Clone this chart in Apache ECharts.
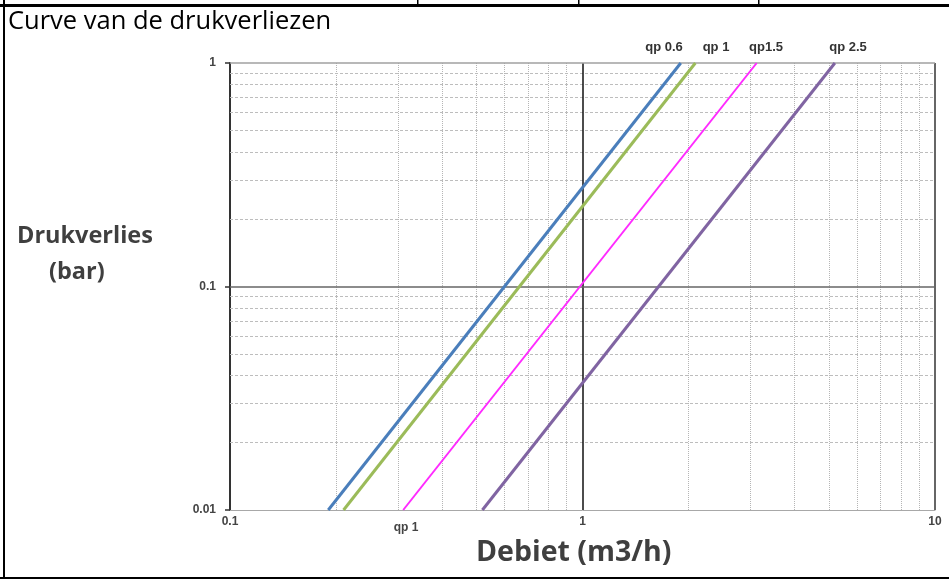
<!DOCTYPE html>
<html>
<head>
<meta charset="utf-8">
<script src="https://cdn.jsdelivr.net/npm/echarts@6/dist/echarts.min.js"></script>
<style>
html,body{margin:0;padding:0;background:#fff;}
#chart{width:949px;height:579px;}
</style>
</head>
<body>
<div id="chart"></div>
<script>
// ---- data ----
const xTicks = [0.1, 1, 10];
const yTicks = [0.01, 0.1, 1];
const xMinor = [0.2,0.3,0.4,0.5,0.6,0.7,0.8,0.9,2,3,4,5,6,7,8,9];
const yMinor = [0.02,0.03,0.04,0.05,0.06,0.07,0.08,0.09,0.2,0.3,0.4,0.5,0.6,0.7,0.8,0.9];
const seriesNames = ['qp 0.6', 'qp 1', 'qp1.5', 'qp 2.5'];
const qp06 = [[0.19, 0.01], [1.90, 1]];
const qp1  = [[0.21, 0.01], [2.09, 1]];
const qp15 = [[0.31, 0.01], [3.12, 1]];
const qp25 = [[0.52, 0.01], [5.20, 1]];

const chart = echarts.init(document.getElementById('chart'), null, {renderer: 'canvas'});

const lineFont = 'Liberation Sans';
function mk(name, data, color, width) {
  return {
    name: name, type: 'line', data: data, symbol: 'none', silent: true,
    lineStyle: {color: color, width: width}, z: 5, animation: false
  };
}

const option = {
  animation: false,
  backgroundColor: '#fff',
  grid: {left: 230, right: 14, top: 63, bottom: 69, containLabel: false},
  xAxis: {
    type: 'log', logBase: 10, min: 0.1, max: 10,
    axisLine: {show: true, lineStyle: {color: '#a8a8a8', width: 1}},
    axisTick: {show: false},
    splitLine: {show: false},
    axisLabel: {
      margin: 6, fontFamily: lineFont, fontWeight: 'bold', fontSize: 12, color: '#444',
      formatter: function (v) { return xTicks.indexOf(+v) >= 0 ? String(v) : ''; }
    }
  },
  yAxis: {
    type: 'log', logBase: 10, min: 0.01, max: 1,
    axisLine: {show: true, lineStyle: {color: '#333', width: 2}},
    axisTick: {show: true, inside: false, length: 5, lineStyle: {color: '#333', width: 1.5}},
    splitLine: {show: false},
    axisLabel: {
      margin: 14, fontFamily: lineFont, fontWeight: 'bold', fontSize: 12, color: '#444',
      formatter: function (v) { return yTicks.indexOf(+v) >= 0 ? String(v) : ''; }
    }
  },
  series: [
    {
      type: 'line', data: [], silent: true, animation: false, z: 1,
      markLine: {
        silent: true, symbol: 'none', animation: false, label: {show: false},
        data: []
          .concat(xMinor.map(v => ({xAxis: v, lineStyle: {color: '#b5b5b5', type: 'dotted', width: 1}})))
          .concat(yMinor.map(v => ({yAxis: v, lineStyle: {color: '#bdbdbd', type: [3, 2], width: 1}})))
          .concat([
            {xAxis: 1, lineStyle: {color: '#111', type: 'solid', width: 1.5}},
            {xAxis: 10, lineStyle: {color: '#666', type: 'solid', width: 2}},
            {yAxis: 0.1, lineStyle: {color: '#666', type: 'solid', width: 1.5}},
            {yAxis: 1, lineStyle: {color: '#a0a0a0', type: 'solid', width: 1.5}}
          ])
      }
    },
    mk(seriesNames[0], qp06, '#4a7ebb', 3),
    mk(seriesNames[1], qp1, '#9bbb59', 3),
    mk(seriesNames[2], qp15, '#ff2aff', 2),
    mk(seriesNames[3], qp25, '#8064a2', 3)
  ],
  graphic: [
    // frame of the table cell
    {type: 'rect', shape: {x: 0, y: 4, width: 949, height: 3}, style: {fill: '#000'}, silent: true},
    {type: 'rect', shape: {x: 3, y: 0, width: 2, height: 579}, style: {fill: '#000'}, silent: true},
    {type: 'rect', shape: {x: 0, y: 577, width: 949, height: 2}, style: {fill: '#000'}, silent: true},
    {type: 'rect', shape: {x: 417, y: 0, width: 1.5, height: 5}, style: {fill: '#000'}, silent: true},
    {type: 'rect', shape: {x: 578, y: 0, width: 1.5, height: 5}, style: {fill: '#000'}, silent: true},
    {type: 'rect', shape: {x: 758, y: 0, width: 1.5, height: 5}, style: {fill: '#000'}, silent: true},
    // texts
    {type: 'text', left: 8, top: 9, style: {text: 'Curve van de drukverliezen', font: '25.5px "Open Sans"', fill: '#000'}},
    {type: 'text', left: 17, top: 224, style: {text: 'Drukverlies', font: 'bold 23.5px "Open Sans"', fill: '#3f3f3f'}},
    {type: 'text', left: 49, top: 260, style: {text: '(bar)', font: 'bold 23.5px "Open Sans"', fill: '#3f3f3f'}},
    {type: 'text', left: 476, top: 538, style: {text: 'Debiet (m3/h)', font: 'bold 28.5px "Open Sans"', fill: '#3f3f3f'}},
    {type: 'text', x: 664, y: 47, style: {text: seriesNames[0], align: 'center', verticalAlign: 'middle', font: 'bold 13px "Liberation Sans"', fill: '#333'}},
    {type: 'text', x: 716, y: 47, style: {text: seriesNames[1], align: 'center', verticalAlign: 'middle', font: 'bold 13px "Liberation Sans"', fill: '#333'}},
    {type: 'text', x: 766, y: 47, style: {text: seriesNames[2], align: 'center', verticalAlign: 'middle', font: 'bold 13px "Liberation Sans"', fill: '#333'}},
    {type: 'text', x: 848, y: 47, style: {text: seriesNames[3], align: 'center', verticalAlign: 'middle', font: 'bold 13px "Liberation Sans"', fill: '#333'}},
    {type: 'text', x: 406, y: 528, style: {text: 'qp 1', align: 'center', verticalAlign: 'middle', font: 'bold 12px "Liberation Sans"', fill: '#444'}}
  ]
};
chart.setOption(option);
</script>
</body>
</html>
